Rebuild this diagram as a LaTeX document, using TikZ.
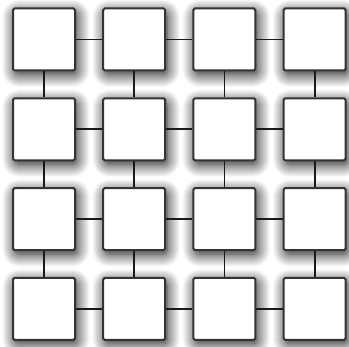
\documentclass[tikz,border=0pt]{standalone}
\usetikzlibrary{shadows.blur}
\tikzset{
  cell/.style={
    rectangle,
    draw=black!80,
    fill=white,
    line width=2pt,
    rounded corners=1.5pt,
    minimum width=62pt,
    minimum height=62pt,
    inner sep=0pt,
    blur shadow={shadow xshift=2pt, shadow yshift=-4pt,
      shadow blur radius=13pt, shadow blur steps=16,
      shadow blur extra rounding=4pt, shadow opacity=95}
  },
  link/.style={
    line width=1.8pt,
    black!90
  }
}

\begin{document}
\begin{tikzpicture}[x=1pt,y=1pt]
  % keep the page the size of the reference
  \useasboundingbox (0,0) rectangle (349,347);

  % the 4x4 grid of cells
  \foreach \i in {0,...,3} {
    \foreach \j in {0,...,3} {
      \node[cell] (c-\i-\j) at ({44+90.2*\i},{307.5-89.8*\j}) {};
    }
  }

  % horizontal links
  \foreach \i [evaluate=\i as \k using int(\i+1)] in {0,...,2} {
    \foreach \j in {0,...,3} {
      \draw[link] (c-\i-\j) -- (c-\k-\j);
    }
  }

  % vertical links
  \foreach \i in {0,...,3} {
    \foreach \j [evaluate=\j as \k using int(\j+1)] in {0,...,2} {
      \draw[link] (c-\i-\j) -- (c-\i-\k);
    }
  }
\end{tikzpicture}
\end{document}
